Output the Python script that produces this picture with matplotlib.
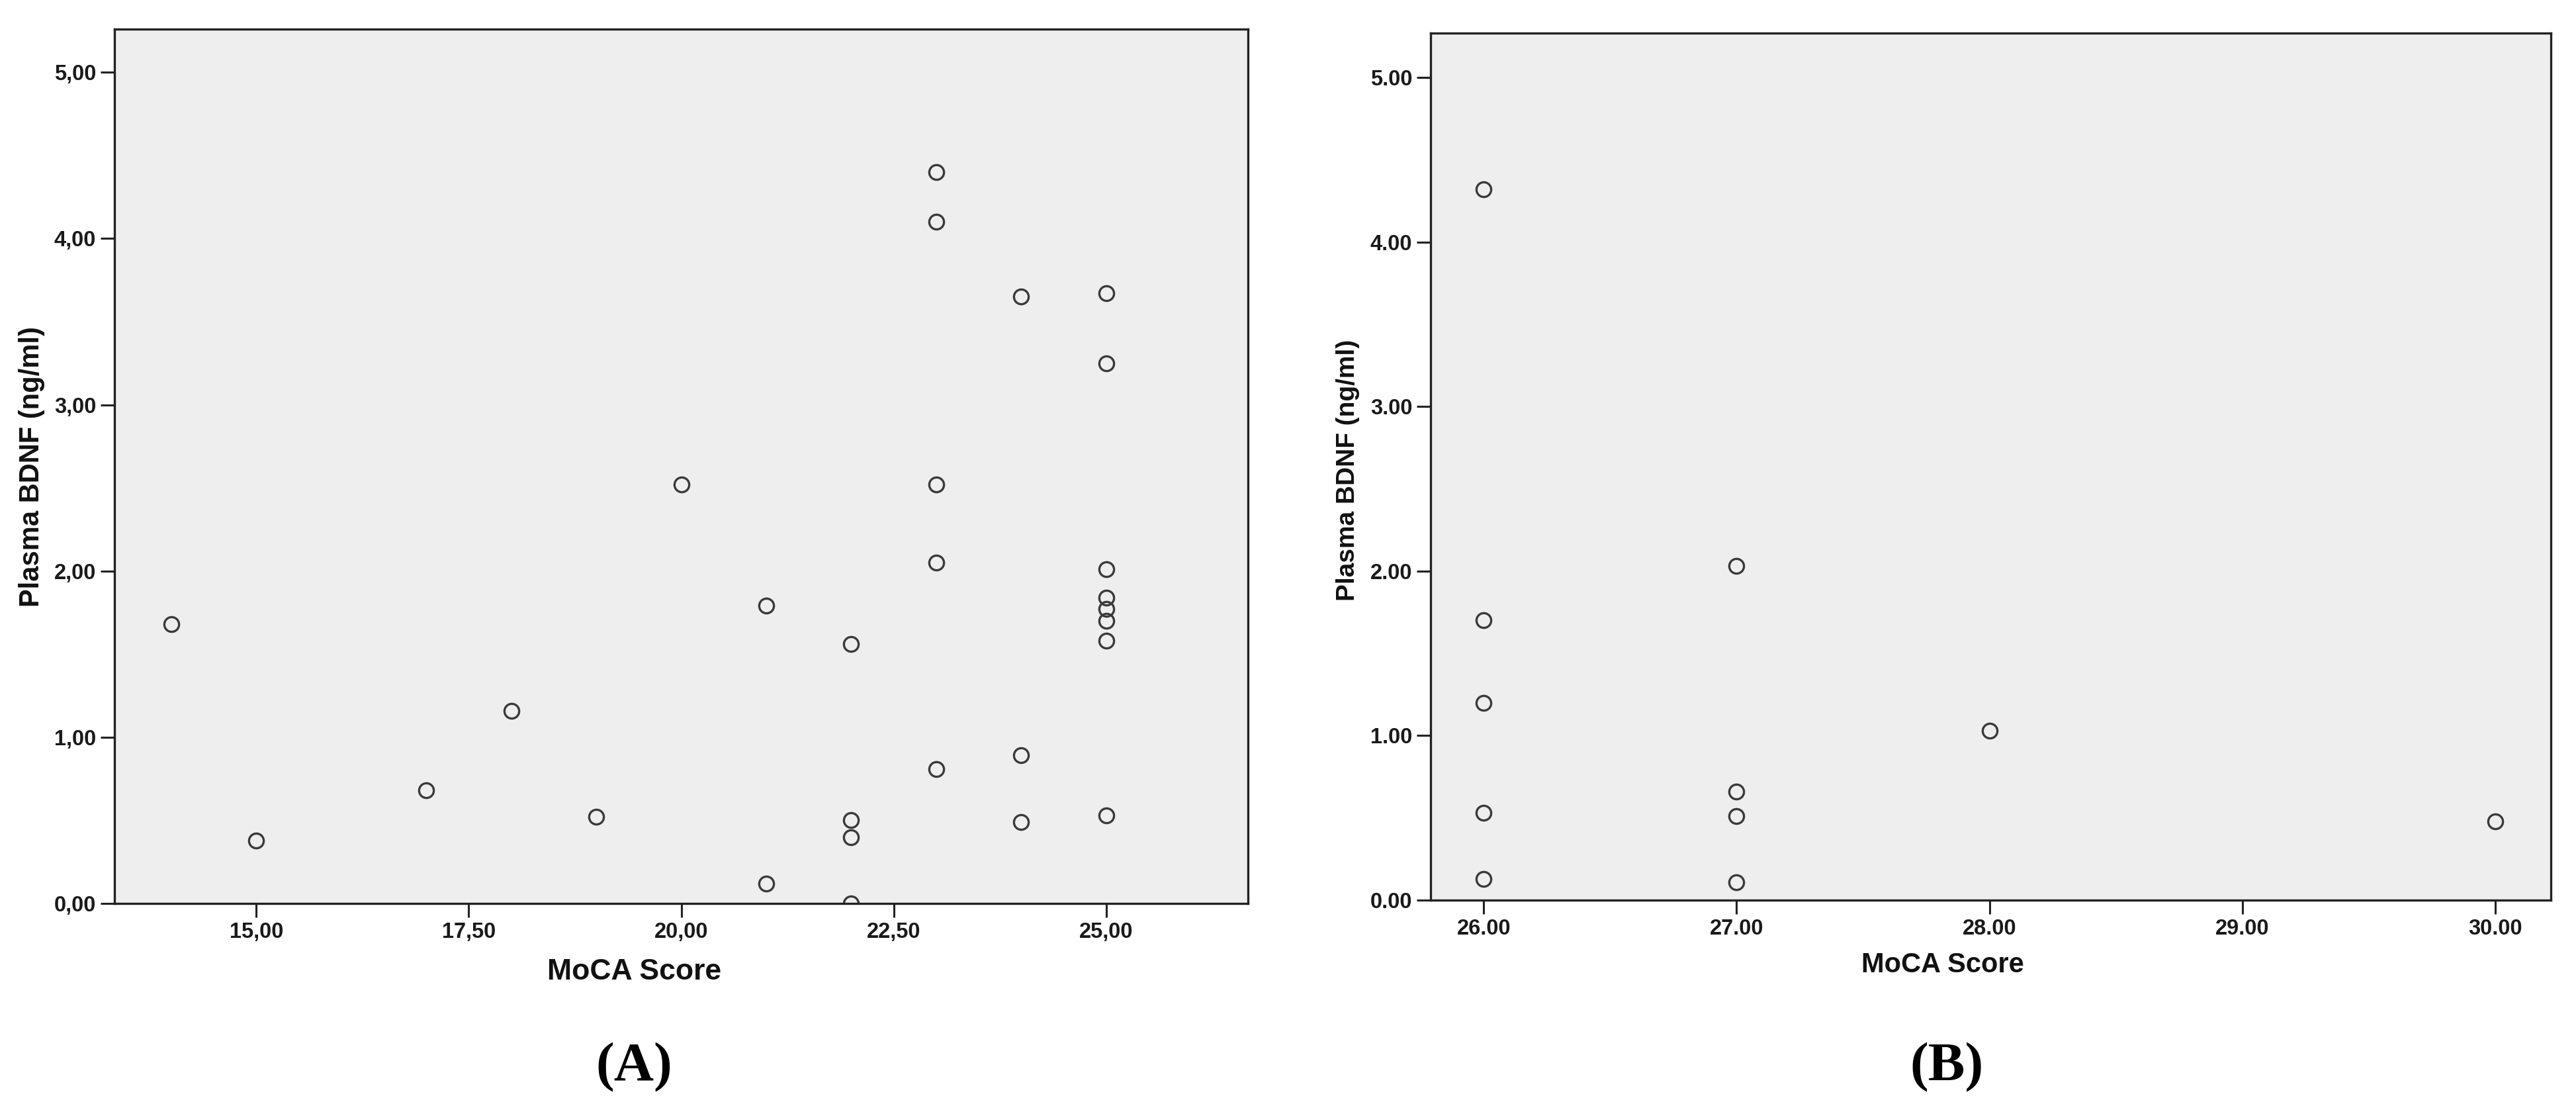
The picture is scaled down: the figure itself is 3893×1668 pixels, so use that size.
import matplotlib
matplotlib.use("Agg")
import matplotlib.pyplot as plt
from matplotlib.ticker import FixedLocator

plt.rcParams['font.family'] = ['Liberation Sans', 'DejaVu Sans']

# Panel A data (MoCA < 26)
moca_a = [14, 15, 17, 18, 19, 20, 21, 21, 22, 22, 22, 22,
          23, 23, 23, 23, 23, 24, 24, 24,
          25, 25, 25, 25, 25, 25, 25, 25]
bdnf_a = [1.68, 0.38, 0.68, 1.16, 0.52, 2.52, 1.79, 0.12, 1.56, 0.50, 0.40, 0.00,
          4.40, 4.10, 2.52, 2.05, 0.81, 3.65, 0.89, 0.49,
          3.67, 3.25, 2.01, 1.84, 1.77, 1.70, 1.58, 0.53]

# Panel B data (MoCA >= 26)
moca_b = [26, 26, 26, 26, 26, 27, 27, 27, 27, 28, 30]
bdnf_b = [4.32, 1.70, 1.20, 0.53, 0.13, 2.03, 0.66, 0.51, 0.11, 1.03, 0.48]

xticks_a = [15.0, 17.5, 20.0, 22.5, 25.0]
xticklabels_a = ["15,00", "17,50", "20,00", "22,50", "25,00"]
yticks = [0, 1, 2, 3, 4, 5]
yticklabels_a = ["0,00", "1,00", "2,00", "3,00", "4,00", "5,00"]
xticks_b = [26, 27, 28, 29, 30]
xticklabels_b = ["26.00", "27.00", "28.00", "29.00", "30.00"]
yticklabels_b = ["0.00", "1.00", "2.00", "3.00", "4.00", "5.00"]

W, H = 3893, 1668
fig = plt.figure(figsize=(W / 100, H / 100), dpi=100)
fig.patch.set_facecolor("white")

def fx(px):
    return px / W

def fy(py):
    return 1 - py / H

axA = fig.add_axes([fx(173), fy(1365), fx(1886 - 173), (1365 - 44) / H])
axB = fig.add_axes([fx(2162), fy(1360), fx(3855 - 2162), (1360 - 50) / H])

def style(ax, x, y, xt, xtl, ytl, xlim, ylim):
    ax.set_facecolor("#eeeeee")
    ax.plot(x, y, linestyle="none", marker="o", markersize=16,
            markerfacecolor="none", markeredgecolor="#3a3a3a",
            markeredgewidth=2.4, zorder=3)
    ax.set_xlim(*xlim)
    ax.set_ylim(*ylim)
    ax.xaxis.set_major_locator(FixedLocator(xt))
    ax.set_xticklabels(xtl)
    ax.yaxis.set_major_locator(FixedLocator(yticks))
    ax.set_yticklabels(ytl)
    for s in ax.spines.values():
        s.set_linewidth(2.4)
        s.set_color("#222222")
        s.set_zorder(4)
    ax.tick_params(axis="both", direction="out", length=15, width=2.2,
                   color="#222222", labelsize=23.5, pad=5, labelcolor="#1a1a1a")
    for lab in ax.get_xticklabels() + ax.get_yticklabels():
        lab.set_fontweight("bold")

style(axA, moca_a, bdnf_a, xticks_a, xticklabels_a, yticklabels_a,
      (13.33, 26.67), (0, 5.26))
style(axB, moca_b, bdnf_b, xticks_b, xticklabels_b, yticklabels_b,
      (25.79, 30.22), (0, 5.27))

# axis labels
fig.text(fx(959), fy(1468), "MoCA Score", ha="center", va="center",
         fontsize=32, fontweight="bold", color="#111111")
fig.text(fx(2936), fy(1458), "MoCA Score", ha="center", va="center",
         fontsize=30, fontweight="bold", color="#111111")
fig.text(fx(48), fy(705), "Plasma BDNF (ng/ml)", ha="center", va="center",
         rotation=90, fontsize=30, fontweight="bold", color="#111111")
fig.text(fx(2037), fy(710), "Plasma BDNF (ng/ml)", ha="center", va="center",
         rotation=90, fontsize=28, fontweight="bold", color="#111111")

# panel letters
fig.text(fx(958), fy(1613), "(A)", ha="center", va="center",
         fontsize=60, fontweight="bold", family=["Liberation Serif", "DejaVu Serif"])
fig.text(fx(2942), fy(1613), "(B)", ha="center", va="center",
         fontsize=60, fontweight="bold", family=["Liberation Serif", "DejaVu Serif"])

fig.savefig("out.png", dpi=100, facecolor="white")
